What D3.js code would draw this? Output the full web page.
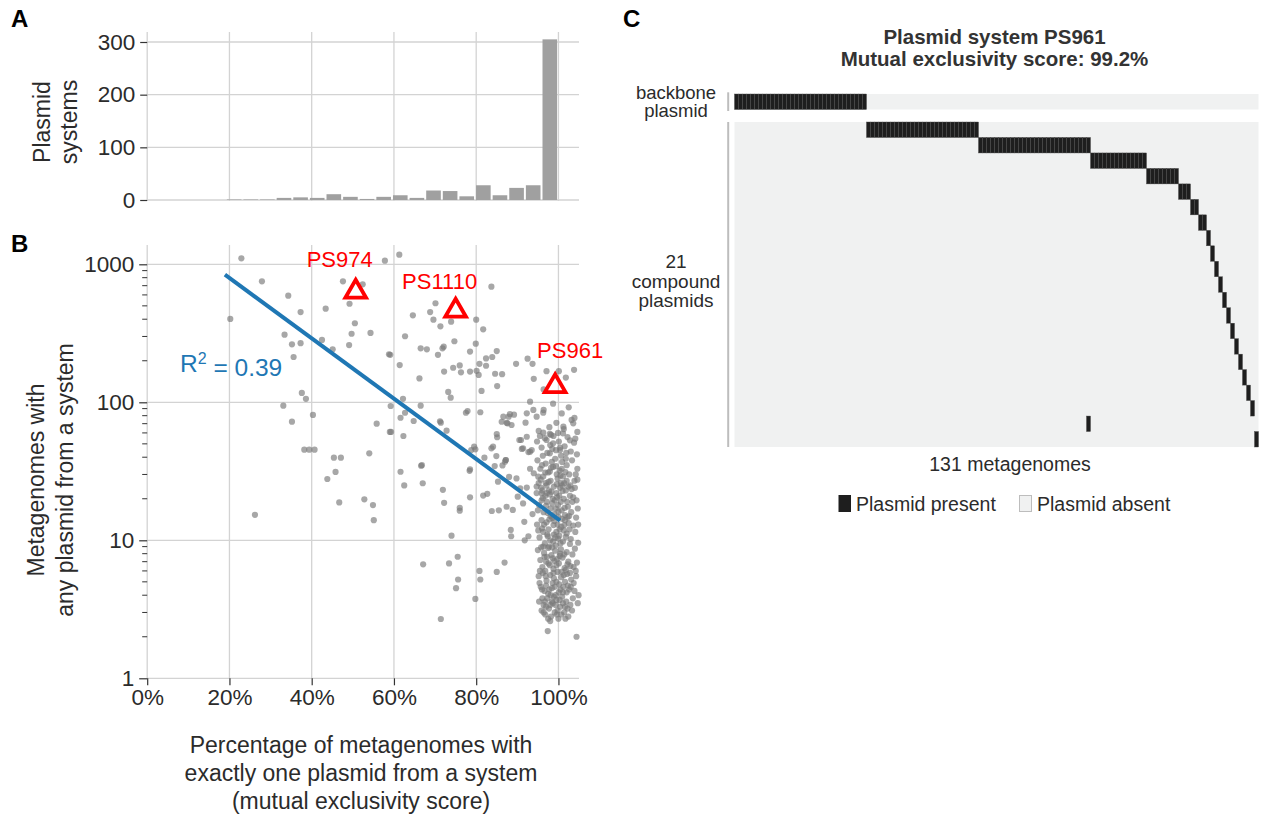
<!DOCTYPE html>
<html><head><meta charset="utf-8">
<script src="https://cdn.jsdelivr.net/npm/d3@7"></script>
<style>
body{margin:0;background:#fff}
svg text{font-family:"Liberation Sans",Arial,Helvetica,sans-serif}
</style>
</head><body>
<svg id="chart" width="1262" height="816"></svg>
<script>
// ---------------- DATA ----------------
// Panel A: histogram (bin centre in %, count of plasmid systems)
const histCenters = [21.14,25.18,29.22,33.26,37.3,41.34,45.38,49.42,53.46,57.5,61.54,65.58,69.62,73.66,77.7,81.74,85.78,89.82,93.86,97.9];
const histCounts  = [1,1,1,4,5,4,11,6,2,6,9,4,18,17,7,28,9,23,28,305];
const histBinWidth = 4.04;

// Panel B: scatter [mutual exclusivity score %, metagenomes with any plasmid]
const scatterSpread = [
 [22.9,1105],[27.9,753],[20.2,402],[34.3,592],[37.3,451],[43.4,477],[47.6,753],[52.4,716],[49.2,518],[50.5,374],
 [49.7,314],[54.3,318],[49.1,260],[33.4,309],[35.2,263],[37.3,268],[35.6,213],[42.5,283],[45.1,242],[58.8,223],
 [37.6,117],[38.6,106],[33.1,94.5],[40.3,81],[35.2,72.4],[55.8,70],[59.0,61],[38.2,45.4],[39.4,45.4],[40.7,45.4],
 [54.0,42.7],[45.4,39.7],[47.1,39.7],[45.8,31.3],[43.8,27.8],[46.7,18.8],[52.8,19.8],[54.9,18.0],[57.8,1062],[26.2,15.3],
 [55.1,14.0],[61.6,31.4],[62.5,25.0],[66.6,34.7],[67.0,25.9],[71.9,23.2],[72.2,18.7],[76.0,17.2],[76.0,16.4],[74.0,10.8],
 [67.1,6.7],[73.4,6.8],[75.5,7.6],[75.6,5.2],[75.1,4.5],[71.4,2.69],[78.5,20.5],[79.8,3.76],[80.8,6.0],[81.0,5.2],
 [85.0,5.9],[86.9,6.9],[81.7,21.1],[82.7,21.7],[83.8,16.3],[85.5,16.5],[87.4,17.5],[88.9,16.6],[88.4,11.9],[88.5,10.7],
 [91.8,10.0],[92.7,10.7],[91.7,13.6],[90.1,20.7],[91.4,18.5],[93.7,15.5],[79.8,45.6],[84.1,47.7],[83.7,46.4],[82.0,39.7],
 [78.4,31.9],[84.5,34.5],[86.4,34.9],[87.2,38.2],[85.3,26.6],[88.0,28.8],[92.3,24.1],[91.1,45.9],[93.1,43.9],[61.3,1175],
 [83.7,688],[70.1,522],[68.8,451],[69.6,397],[71.3,355],[73.9,384],[64.6,427],[80.0,397],[81.7,338],[79.9,266],
 [62.7,301],[66.5,246],[68.0,242],[72.1,253],[71.8,246],[74.7,277],[78.5,233],[70.7,221],[59.1,221],[61.4,186],
 [74.4,178],[76.0,185],[76.3,165],[72.2,167],[78.5,167],[80.1,169],[80.6,158],[80.8,190],[82.4,184],[82.4,208],
 [83.9,213],[85.0,235],[84.6,161],[86.3,160],[85.1,131],[89.7,190],[92.5,207],[93.7,190],[97.1,168],[100.1,168],
 [103.8,172],[101.8,151],[94.0,148],[66.2,149],[81.3,121],[73.2,119],[73.8,108],[62.2,106],[66.5,94.5],[59.2,94],
 [93.1,101],[98.7,97.7],[77.9,86.5],[77.5,84],[61.6,77.3],[62.7,84],[64.8,73.2],[71.2,72.8],[71.4,71.2],[72.8,62.3],
 [59.3,61],[62.3,57],[85.0,58.9],[85.1,55.8],[79.5,47.7],[78.8,45.1],[86.6,78.7],[87.9,78.7],[89.2,81.3],[86.2,72.3],
 [87.6,70.4],[92.3,83.2],[93.9,88],[94.7,78.7],[92.0,71.2],[96.3,84.1],[101.2,66.6],[103.2,74.5],[103.6,70.4],[101.1,59.6],
 [104.1,54.5],[90.9,53.3],[92.7,43.6],[96.3,60.2],[87.2,38.2],[87.0,37.1],[84.9,40.8],[66.8,35],[78.5,32.7],[96.4,124],
 [81.0,84.7],[90.5,53.3],[89.8,28.1],[90.7,23.8],[88.2,82],[87.4,71],[88.6,68.5],[92.3,56.3],[91.4,46.4],[93.5,45.1],
 [97.1,53.3],[98.7,50.4],[97.9,42.7],[100.4,45.1],[93.1,33],[94.0,30.6],[95.1,28.9],[94.7,24.5],[95.9,21.9]
];
const scatterCluster = [
 [95.2,62],[97.8,66],[99.5,71],[101.3,64],[103.9,77],[96.4,88],[102.5,92],[98.2,58],[100.8,83],[104.6,61],
 [94.8,52],[95.9,47],[96.7,55],[97.3,43],[98.0,49],[98.8,57],[99.4,45],[100.1,52],[100.7,41],[101.5,48],
 [102.2,56],[103.0,44],[103.8,51],[104.5,42],[96.2,41],[97.9,59],[99.9,60],[101.9,43],[95.5,57],[98.5,46],
 [100.4,47],[102.8,53],
 [94.9,38],[95.6,33],[96.3,29],[96.9,36],[97.5,31],[98.1,27],[98.7,34],[99.2,39],[99.8,28],[100.3,32],
 [100.9,37],[101.4,26],[102.0,35],[102.6,30],[103.3,38],[103.9,27],[104.6,33],[95.2,26],[97.1,25],[98.4,37],
 [99.6,30],[101.1,29],[102.9,25],[96.0,35],[100.6,26],[101.8,39],[104.2,30],
 [94.7,22],[95.3,18],[95.8,24],[96.4,16],[96.8,21],[97.2,19],[97.7,23],[98.1,17],[98.6,20],[99.0,15.5],
 [99.5,22],[99.9,18],[100.4,24],[100.8,16.5],[101.3,20],[101.8,23],[102.3,17.5],[102.8,21],[103.4,19],[104.0,24],
 [104.7,17],[95.9,19.5],[97.4,15.8],[98.9,24.5],[100.2,21],[101.6,15.2],[103.1,16],[96.1,23],[99.3,17],[102.1,19],
 [97.9,21.5],[100.6,19],
 [94.8,13],[95.4,10.5],[95.9,14],[96.3,11.5],[96.7,9.5],[97.1,13.5],[97.6,12],[98.0,10],[98.5,14.5],[98.9,11],
 [99.3,9.2],[99.8,13],[100.2,10.8],[100.7,12.5],[101.1,9.8],[101.6,14],[102.0,11.2],[102.5,13.3],[103.0,10.2],[103.6,12.8],
 [104.3,14.6],[104.8,9.6],[96.0,12.2],[97.4,10.7],[98.8,12.9],[100.0,14.8],[101.3,11.8],[102.8,9.4],[99.5,11.5],[97.8,14.2],
 [100.5,9.5],[102.2,14.7],
 [95.0,8.5],[95.6,7.2],[96.1,6.4],[96.5,8.1],[97.0,7.0],[97.5,8.8],[97.9,6.6],[98.3,7.8],[98.8,6.2],[99.2,8.4],
 [99.7,7.3],[100.1,6.8],[100.6,8.6],[101.0,7.5],[101.5,6.3],[102.0,8.2],[102.4,7.0],[102.9,6.5],[103.4,7.9],[104.0,8.7],
 [104.5,6.9],[96.8,6.0],[98.5,8.9],[100.3,7.7],[101.8,6.1],[103.7,6.4],[99.0,7.1],[97.2,7.6],
 [95.2,5.5],[95.7,4.6],[96.2,5.8],[96.6,4.3],[97.1,5.1],[97.5,4.1],[98.0,5.6],[98.4,4.5],[98.9,5.3],[99.3,4.0],
 [99.8,5.9],[100.2,4.8],[100.7,5.4],[101.1,4.2],[101.6,5.0],[102.1,5.7],[102.6,4.4],[103.1,5.2],[103.7,4.9],[104.3,5.5],
 [104.9,4.0],[96.9,5.5],[98.6,4.9],[100.5,4.4],[102.3,4.7],[97.8,4.4],[99.5,5.0],[101.3,5.6],[95.4,4.9],[103.9,4.3],
 [95.3,3.6],[95.9,3.1],[96.4,3.4],[96.8,2.9],[97.3,3.8],[97.7,3.2],[98.2,2.8],[98.6,3.5],[99.1,3.0],[99.5,3.7],
 [100.0,2.7],[100.4,3.3],[100.9,3.9],[101.4,3.0],[101.9,3.6],[102.4,2.8],[102.9,3.4],[103.5,3.8],[97.0,3.3],[98.9,3.9],
 [100.7,2.9],[99.8,3.1],[96.1,3.8],[101.6,3.3],[97.5,2.7],[98.4,3.6],[97.4,2.2],[104.4,2.0],
 [95.7,27.5],[96.5,13.0],[97.0,17.8],[97.6,26.5],[98.3,22.5],[98.7,9.8],[99.1,19.5],[99.6,25.5],[100.0,16.2],[100.5,29.5],
 [101.0,22.8],[101.5,17.2],[102.0,27.0],[102.6,15.0],[103.2,23.5],[96.3,9.0],[97.3,11.0],[98.1,15.0],[99.0,13.8],[99.9,10.3],
 [100.9,14.3],[101.8,10.6],[102.7,12.0],[96.6,7.6],[97.6,6.8],[98.6,7.4],[99.5,6.6],[100.4,8.0],[101.4,7.9],[102.2,6.7],
 [95.5,6.0],[96.0,4.4],[97.0,4.7],[98.1,4.0],[99.1,4.6],[100.1,4.2],[101.2,4.6],[102.0,4.2],[103.0,4.6],[96.7,3.6],
 [98.0,3.4],[99.3,3.4],[100.3,3.7],[101.1,3.5],[102.2,3.2],[97.9,31.5],[99.4,34.5],[100.8,33.0],[96.8,31.0],[101.7,31.2],
 [95.0,16.5],[103.6,20.5],[104.1,11.5],[104.6,27.5],[95.1,11.8],[96.9,26.0],[98.2,33.5],[99.7,20.5],[100.9,25.0],[102.4,24.5],
 [97.2,22.0],[98.5,18.5],[100.3,12.0],[101.4,12.9],[99.2,10.5],[96.2,20.2],[97.7,9.0],[98.8,5.8],[100.8,5.9],[102.8,5.8],
 [95.8,8.9],[96.4,3.0],[99.6,2.9],[101.7,2.7],[98.0,2.6],[103.3,3.1],[104.7,3.5],[104.2,6.0],[104.8,13.0],[104.4,19.5]
];
const highlightNames = ["PS974","PS1110","PS961"];
const highlightScore = [50.7,75.0,99.2];
const highlightCount = [633,461,131];
const fitScore = [18.9,100.4];
const fitCount = [841,13.9];
const rSquared = "0.39";

const xTickValues = [0,20,40,60,80,100];
const xTickLabels = ["0%","20%","40%","60%","80%","100%"];
const yTicksA = [0,100,200,300];
const yTicksB = [1,10,100,1000];
const yTitleA = ["Plasmid","systems"];
const yTitleB = ["Metagenomes with","any plasmid from a system"];
const xTitleB = ["Percentage of metagenomes with","exactly one plasmid from a system","(mutual exclusivity score)"];

// Panel C: heatmap (131 metagenomes x backbone + 21 compound plasmids)
const nMetagenomes = 131;
const backboneRuns = [[0,33]];               // [first column, run length]
const compoundRuns = [
 [[33,28]],[[61,28]],[[89,14]],[[103,8]],[[111,3]],[[114,2]],[[116,2]],
 [[118,1]],[[119,1]],[[120,1]],[[121,1]],[[122,1]],[[123,1]],[[124,1]],
 [[125,1]],[[126,1]],[[127,1]],[[128,1]],[[129,1]],[[88,1]],[[130,1]]
];
const heatTitle = ["Plasmid system PS961","Mutual exclusivity score: 99.2%"];
const backboneLabel = ["backbone","plasmid"];
const compoundLabel = ["21","compound","plasmids"];
const legendLabels = ["Plasmid present","Plasmid absent"];

// ---------------- DRAWING ----------------
const svg = d3.select("#chart");
const gridCol = "#d3d3d3", txtCol = "#2b2b2b", tickCol = "#333";
const FST = 22.5;   // tick labels
const FSA = 23;     // axis titles

const x = d3.scaleLinear().domain([0,105]).range([147.2,579]);

// ---- Panel A ----
const yA = d3.scaleLinear().domain([0,300]).range([200,42]);
const gA = svg.append("g");
gA.selectAll("line.vg").data(xTickValues).join("line")
  .attr("x1",d=>x(d)).attr("x2",d=>x(d)).attr("y1",32).attr("y2",201)
  .attr("stroke",gridCol).attr("stroke-width",1.3);
gA.selectAll("line.hg").data(yTicksA).join("line")
  .attr("x1",x(0)).attr("x2",579).attr("y1",d=>yA(d)).attr("y2",d=>yA(d))
  .attr("stroke",gridCol).attr("stroke-width",1.3);
gA.selectAll("rect").data(histCounts).join("rect")
  .attr("x",(d,i)=>x(histCenters[i]-histBinWidth/2)+1)
  .attr("width",(d,i)=>x(histCenters[i]+histBinWidth/2)-x(histCenters[i]-histBinWidth/2)-2)
  .attr("y",d=>yA(d)).attr("height",d=>yA(0)-yA(d))
  .attr("fill","#a0a0a0");
const axA = d3.axisLeft(yA).tickValues(yTicksA).tickSize(7).tickPadding(5);
const gAxA = gA.append("g").attr("transform",`translate(${x(0)},0)`).call(axA);
gAxA.select(".domain").remove();
gAxA.selectAll(".tick line").attr("stroke",tickCol).attr("stroke-width",1.2);
gAxA.selectAll(".tick text").attr("fill",txtCol).style("font-size",FST+"px").attr("font-family",null);
gA.append("text").attr("transform","translate(50,122) rotate(-90)")
  .attr("text-anchor","middle").attr("fill",txtCol).style("font-size",FSA+"px")
  .selectAll("tspan").data(yTitleA).join("tspan")
  .attr("x",0).attr("dy",(d,i)=>i?27:0).text(d=>d);

// ---- Panel B ----
const yB = d3.scaleLog().domain([1,1380]).range([678.3,245]);
const gB = svg.append("g");
gB.selectAll("line.vg").data(xTickValues).join("line")
  .attr("x1",d=>x(d)).attr("x2",d=>x(d)).attr("y1",245).attr("y2",678.3)
  .attr("stroke",gridCol).attr("stroke-width",1.3);
gB.selectAll("line.hg").data(yTicksB).join("line")
  .attr("x1",x(0)).attr("x2",579).attr("y1",d=>yB(d)).attr("y2",d=>yB(d))
  .attr("stroke",gridCol).attr("stroke-width",1.3);

const allPts = scatterSpread.concat(scatterCluster);
gB.selectAll("circle").data(allPts).join("circle")
  .attr("cx",d=>x(d[0])).attr("cy",d=>yB(d[1])).attr("r",3.1)
  .attr("fill","#7a7a7a").attr("fill-opacity",0.66);

gB.append("path")
  .attr("d",d3.line().x(d=>x(d[0])).y(d=>yB(d[1]))(fitScore.map((s,i)=>[s,fitCount[i]])))
  .attr("stroke","#1f77b4").attr("stroke-width",4).attr("fill","none");

const rt = gB.append("text").attr("x",180).attr("y",372).attr("fill","#1f77b4").style("font-size","24.5px");
rt.append("tspan").text("R");
rt.append("tspan").attr("dy","-0.5em").style("font-size","16px").text("2");
rt.append("tspan").attr("dy","0.5em").text(" = " + rSquared);

const tri = d3.symbol().type(d3.symbolTriangle).size(185);
const labelOffsets = [[-16,-25],[-16,-22],[15,-28]];
highlightNames.forEach((n,i)=>{
  const px = x(highlightScore[i]), py = yB(highlightCount[i]);
  gB.append("path").attr("d",tri()).attr("transform",`translate(${px},${py})`)
    .attr("fill","none").attr("stroke","#ff0000").attr("stroke-width",3.8).attr("stroke-linejoin","miter");
  gB.append("text").attr("x",px+labelOffsets[i][0]).attr("y",py+labelOffsets[i][1])
    .attr("text-anchor","middle").attr("fill","#ff0000").style("font-size","22px").text(n);
});

const axBx = d3.axisBottom(x).tickValues(xTickValues).tickFormat((d,i)=>xTickLabels[i]).tickSize(7).tickPadding(4);
const gBx = gB.append("g").attr("transform","translate(0,678.3)").call(axBx);
gBx.select(".domain").remove();
gBx.selectAll(".tick line").attr("stroke",tickCol).attr("stroke-width",1.2);
gBx.selectAll(".tick text").attr("fill",txtCol).style("font-size",FST+"px").attr("font-family",null);

const minorTicks = [];
[1,10,100,1000].forEach(p=>{for(let k=2;k<=9;k++){ if(p*k<=1380) minorTicks.push(p*k);} });
gB.selectAll("line.minor").data(minorTicks).join("line")
  .attr("x1",x(0)-5).attr("x2",x(0)).attr("y1",d=>yB(d)).attr("y2",d=>yB(d))
  .attr("stroke",tickCol).attr("stroke-width",1);
const axBy = d3.axisLeft(yB).tickValues(yTicksB).tickFormat(d3.format("d")).tickSize(8).tickPadding(5);
const gBy = gB.append("g").attr("transform",`translate(${x(0)},0)`).call(axBy);
gBy.select(".domain").remove();
gBy.selectAll(".tick line").attr("stroke",tickCol).attr("stroke-width",1.2);
gBy.selectAll(".tick text").attr("fill",txtCol).style("font-size",FST+"px").attr("font-family",null);

gB.append("text").attr("text-anchor","middle").attr("fill",txtCol)
  .style("font-size",FSA+"px")
  .selectAll("tspan").data(xTitleB)
  .join("tspan").attr("x",361).attr("y",(d,i)=>753+i*28).text(d=>d);
gB.append("text").attr("transform","translate(44,480) rotate(-90)")
  .attr("text-anchor","middle").attr("fill",txtCol).style("font-size",FSA+"px")
  .selectAll("tspan").data(yTitleB).join("tspan")
  .attr("x",0).attr("dy",(d,i)=>i?29:0).text(d=>d);

// ---- Panel C ----
const gC = svg.append("g");
const xc = d3.scaleBand().domain(d3.range(nMetagenomes)).range([734.5,1258.5]).padding(0);
const ycComp = d3.scaleBand().domain(d3.range(compoundRuns.length)).range([122,447]).padding(0);
const backTop = 94, backBot = 109.5;

function runsToCells(runs){ const c=[]; runs.forEach(r=>{for(let k=0;k<r[1];k++) c.push(r[0]+k);}); return c; }

gC.append("rect").attr("x",xc.range()[0]).attr("y",backTop).attr("width",xc.range()[1]-xc.range()[0])
  .attr("height",backBot-backTop).attr("fill","#f0f1f1");
gC.append("rect").attr("x",xc.range()[0]).attr("y",ycComp.range()[0]).attr("width",xc.range()[1]-xc.range()[0])
  .attr("height",ycComp.range()[1]-ycComp.range()[0]).attr("fill","#f0f1f1");

const presentFill = "#1e1e1e", presentStroke = "#454545";
gC.selectAll("rect.bb").data(runsToCells(backboneRuns)).join("rect")
  .attr("x",d=>xc(d)).attr("width",xc.bandwidth()).attr("y",backTop).attr("height",backBot-backTop)
  .attr("fill",presentFill).attr("stroke",presentStroke).attr("stroke-width",0.4);
compoundRuns.forEach((runs,ri)=>{
  gC.selectAll(null).data(runsToCells(runs)).join("rect")
    .attr("x",d=>xc(d)).attr("width",xc.bandwidth()).attr("y",ycComp(ri)).attr("height",ycComp.bandwidth())
    .attr("fill",presentFill).attr("stroke",presentStroke).attr("stroke-width",0.4);
});
gC.append("line").attr("x1",728.2).attr("x2",728.2).attr("y1",92.3).attr("y2",111).attr("stroke","#bdbdbd").attr("stroke-width",2);
gC.append("line").attr("x1",728.2).attr("x2",728.2).attr("y1",122).attr("y2",447).attr("stroke","#bdbdbd").attr("stroke-width",2);

const cx = (xc.range()[0]+xc.range()[1])/2;
gC.append("text").attr("text-anchor","middle").attr("fill","#333").style("font-size","20.5px").style("font-weight","bold")
  .selectAll("tspan").data(heatTitle).join("tspan").attr("x",cx-2).attr("y",(d,i)=>44+i*22).text(d=>d);
gC.append("text").attr("text-anchor","middle").attr("fill",txtCol).style("font-size","18.5px")
  .selectAll("tspan").data(backboneLabel).join("tspan").attr("x",676).attr("y",(d,i)=>99+i*18).text(d=>d);
gC.append("text").attr("text-anchor","middle").attr("fill",txtCol).style("font-size","19px")
  .selectAll("tspan").data(compoundLabel).join("tspan").attr("x",676).attr("y",(d,i)=>268+i*19.5).text(d=>d);
gC.append("text").attr("x",1010).attr("y",471).attr("text-anchor","middle").attr("fill",txtCol).style("font-size","19.5px")
  .text(nMetagenomes+" metagenomes");

const lg = gC.append("g");
lg.append("rect").attr("x",838.5).attr("y",495).attr("width",12.5).attr("height",17).attr("fill",presentFill);
lg.append("text").attr("x",856).attr("y",511).attr("fill",txtCol).style("font-size","19.5px").text(legendLabels[0]);
lg.append("rect").attr("x",1019.5).attr("y",495.5).attr("width",12).attr("height",16).attr("fill","#f0f1f1").attr("stroke","#bdbdbd");
lg.append("text").attr("x",1037).attr("y",511).attr("fill",txtCol).style("font-size","19.5px").text(legendLabels[1]);

[["A",11,27],["B",11,252],["C",623,27]].forEach(l=>{
  svg.append("text").attr("x",l[1]).attr("y",l[2]).style("font-size","24px").style("font-weight","bold").attr("fill","#000").text(l[0]);
});
</script>
</body></html>
